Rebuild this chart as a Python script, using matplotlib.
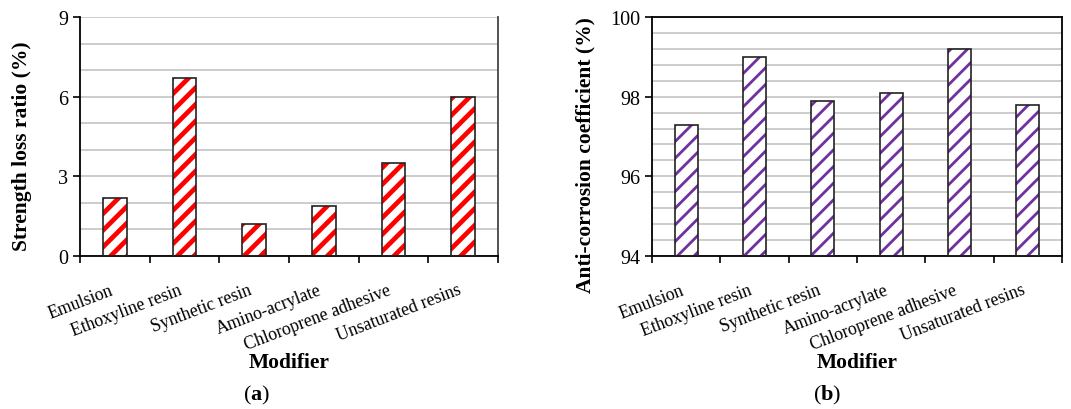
import numpy as np
import matplotlib
matplotlib.use('Agg')
import matplotlib.pyplot as plt
import matplotlib.transforms as mtransforms
from matplotlib.ticker import MultipleLocator

plt.rcParams['font.family'] = ['Liberation Serif', 'DejaVu Serif']
plt.rcParams['mathtext.fontset'] = 'custom'
plt.rcParams['mathtext.rm'] = 'Liberation Serif'
plt.rcParams['mathtext.bf'] = 'Liberation Serif:bold'

modifiers = ['Emulsion', 'Ethoxyline resin', 'Synthetic resin', 'Amino-acrylate',
             'Chloroprene adhesive', 'Unsaturated resins']
strength_loss = [2.2, 6.7, 1.2, 1.9, 3.5, 6.0]
anti_corrosion = [97.3, 99.0, 97.9, 98.1, 99.2, 97.8]

fig = plt.figure(figsize=(10.71, 4.10), dpi=100)
ax_a = fig.add_axes([80 / 1071, 1 - 257 / 410, 418 / 1071, 239 / 410])
ax_b = fig.add_axes([652 / 1071, 1 - 257 / 410, 410 / 1071, 239 / 410])


def draw_panel(ax, values, base, color, hatch_lw, ylim, major, minor, ylabel):
    x = np.arange(len(values))
    heights = [v - base for v in values]
    with plt.rc_context({'hatch.linewidth': hatch_lw, 'hatch.color': color}):
        bars = ax.bar(x, heights, bottom=base, width=0.34, facecolor='white',
                      edgecolor=color, hatch='//', linewidth=0, zorder=2)
        for b in bars:
            if hasattr(b, 'set_hatch_linewidth'):
                b.set_hatch_linewidth(hatch_lw)
    ax.bar(x, heights, bottom=base, width=0.34, facecolor='none',
           edgecolor='#222222', linewidth=1.2, zorder=3)
    ax.set_xlim(-0.5, len(values) - 0.5)
    ax.set_ylim(*ylim)
    ax.yaxis.set_major_locator(MultipleLocator(major))
    ax.yaxis.set_minor_locator(MultipleLocator(minor))
    ax.grid(axis='y', which='both', color='#c8c8c8', linewidth=1.3, zorder=0)
    ax.set_axisbelow(True)
    ax.set_xticks(np.arange(len(values) + 1) - 0.5)
    ax.set_xticklabels([])
    # rotated category labels, placed under each bar
    trans = ax.get_xaxis_transform() + mtransforms.ScaledTranslation(
        -6 / 100, -25 / 100, fig.dpi_scale_trans)
    for xi, name in zip(x, modifiers):
        ax.text(xi, 0, name, transform=trans, rotation=21, ha='right', va='top',
                rotation_mode='anchor', fontsize=12.8)
    ax.tick_params(axis='x', which='major', direction='out', length=5, width=1.2)
    ax.tick_params(axis='y', which='major', direction='out', length=5, width=1.2,
                   labelsize=14.5)
    ax.tick_params(axis='y', which='minor', length=0)
    for s in ax.spines.values():
        s.set_linewidth(1.3)
    ax.set_ylabel(ylabel, fontsize=15.5, fontweight='bold')
    ax.set_xlabel('Modifier', fontsize=15.5, fontweight='bold')


draw_panel(ax_a, strength_loss, 0, '#ff0000', 3.4, (0, 9), 3, 1,
           'Strength loss ratio (%)')
ax_a.spines['top'].set_visible(False)
ax_a.spines['right'].set_color('#444444')

draw_panel(ax_b, anti_corrosion, 94, '#7030a0', 2.0, (94, 100), 2, 0.4,
           'Anti-corrosion coefficient (%)')

ax_a.yaxis.set_label_coords(-0.115, 0.462)
ax_b.yaxis.set_label_coords(-0.139, 0.427)
ax_a.xaxis.set_label_coords(0.5, -0.40)
ax_b.xaxis.set_label_coords(0.5, -0.40)

fig.text(257 / 1071, 1 - 395 / 410, r'($\mathbf{a}$)', ha='center', va='center', fontsize=16)
fig.text(827 / 1071, 1 - 395 / 410, r'($\mathbf{b}$)', ha='center', va='center', fontsize=16)

fig.savefig('out.png', dpi=100)
